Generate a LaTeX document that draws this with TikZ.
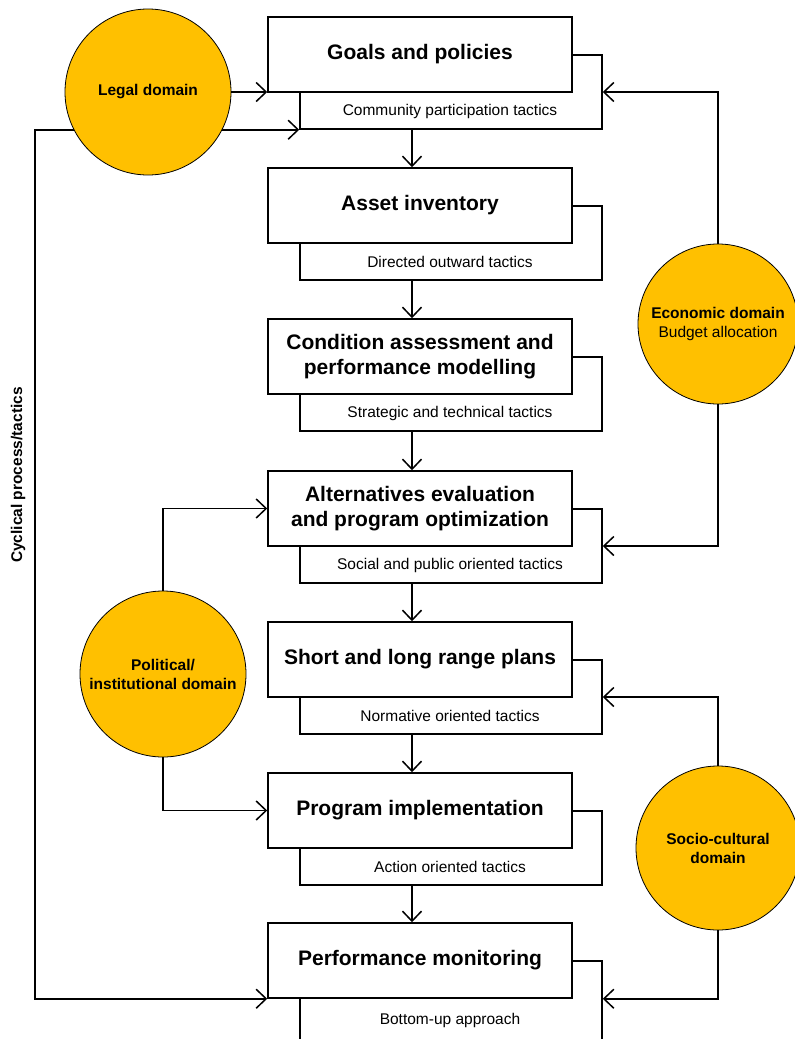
\documentclass[tikz,border=0pt]{standalone}
\usepackage{fontspec}
\setmainfont{Liberation Sans}
\usetikzlibrary{arrows.meta}
\definecolor{domaingold}{RGB}{255,192,0}

\begin{document}
\begin{tikzpicture}[x=1pt, y=-1pt,
		>={Straight Barb[length=10pt,width=19pt]},
		stage/.style={draw, fill=white, line width=1.5pt, minimum width=304pt, minimum height=75pt, inner sep=0pt, align=center, font=\fontsize{21}{25}\selectfont\bfseries},
		tactbox/.style={draw, line width=1.5pt, minimum width=302pt, minimum height=74pt, inner sep=0pt},
		tactic/.style={inner sep=0pt, font=\fontsize{15.5}{18}\selectfont},
		domainball/.style={circle, draw, fill=domaingold, line width=0.8pt, inner sep=0pt, minimum size=166pt, align=center, font=\fontsize{15.5}{19}\selectfont\bfseries},
		flow/.style={line width=1.5pt, ->}]
	\useasboundingbox (0,0) rectangle (795,1039);
	\clip (0,0) rectangle (795,1039);
	
	% tactics boxes behind the stages
	\node[tactbox] (goalsT) at (451,92) {};
	\node[tactbox] (assetT) at (451,243) {};
	\node[tactbox] (condT) at (451,394) {};
	\node[tactbox] (altT) at (451,546) {};
	\node[tactbox] (planT) at (451,697) {};
	\node[tactbox] (implT) at (451,848) {};
	\node[tactbox, minimum height=90pt] (monT) at (451,1006) {};
	
	% stages
	\node[stage] (goals) at (420,54.5) {Goals and policies};
	\node[stage] (asset) at (420,205.5) {Asset inventory};
	\node[stage] (cond) at (420,356.5) {Condition assessment and\\performance modelling};
	\node[stage] (alt) at (420,508.5) {Alternatives evaluation\\and program optimization};
	\node[stage] (plan) at (420,659.5) {Short and long range plans};
	\node[stage] (impl) at (420,810.5) {Program implementation};
	\node[stage] (mon) at (420,960.5) {Performance monitoring};
	
	\node[tactic] (goalsL) at (450,111) {Community participation tactics};
	\node[tactic] (assetL) at (450,262) {Directed outward tactics};
	\node[tactic] (condL) at (450,413) {Strategic and technical tactics};
	\node[tactic] (altL) at (450,565) {Social and public oriented tactics};
	\node[tactic] (planL) at (450,716) {Normative oriented tactics};
	\node[tactic] (implL) at (450,867) {Action oriented tactics};
	\node[tactic] (monL) at (450,1020) {Bottom-up approach};
	
	% main sequence
	\coordinate (spine) at (412,0);
	\draw[flow] (goalsT.south -| spine) -- (asset.north -| spine);
	\draw[flow] (assetT.south -| spine) -- (cond.north -| spine);
	\draw[flow] (condT.south -| spine) -- (alt.north -| spine);
	\draw[flow] (altT.south -| spine) -- (plan.north -| spine);
	\draw[flow] (planT.south -| spine) -- (impl.north -| spine);
	\draw[flow] (implT.south -| spine) -- (mon.north -| spine);
	
	% feedback loop
	\coordinate (loop) at (35,0);
	\draw[flow, <->] (goalsT.south west) -- (goalsT.south west -| loop) -- (mon.south west -| loop) -- (mon.south west);
	\node[rotate=90, font=\fontsize{15.5}{19}\selectfont\bfseries] (cyclab) at (18,475) {Cyclical process/tactics};
	
	% domains
	\node[domainball] (legal) at (148,92) {Legal domain};
	\node[domainball] (pol) at (163,674) {Political/\\institutional domain};
	\node[domainball, minimum size=160pt] (eco) at (718,324) {Economic domain\\{\mdseries Budget allocation}};
	\node[domainball, minimum size=164pt] (soc) at (718,848) {Socio-cultural\\domain};
	
	\draw[flow] (legal.east) -- (legal.east -| goals.south west);
	\draw[flow] (pol.north) |- (alt.west);
	\draw[flow] (pol.south) |- (impl.west);
	\draw[flow] (eco.north) |- (goalsT.east);
	\draw[flow] (eco.south) |- (altT.east);
	\draw[flow] (soc.north) |- (planT.east);
	\draw[flow] (soc.south) |- (mon.south -| monT.east);
\end{tikzpicture}
\end{document}
